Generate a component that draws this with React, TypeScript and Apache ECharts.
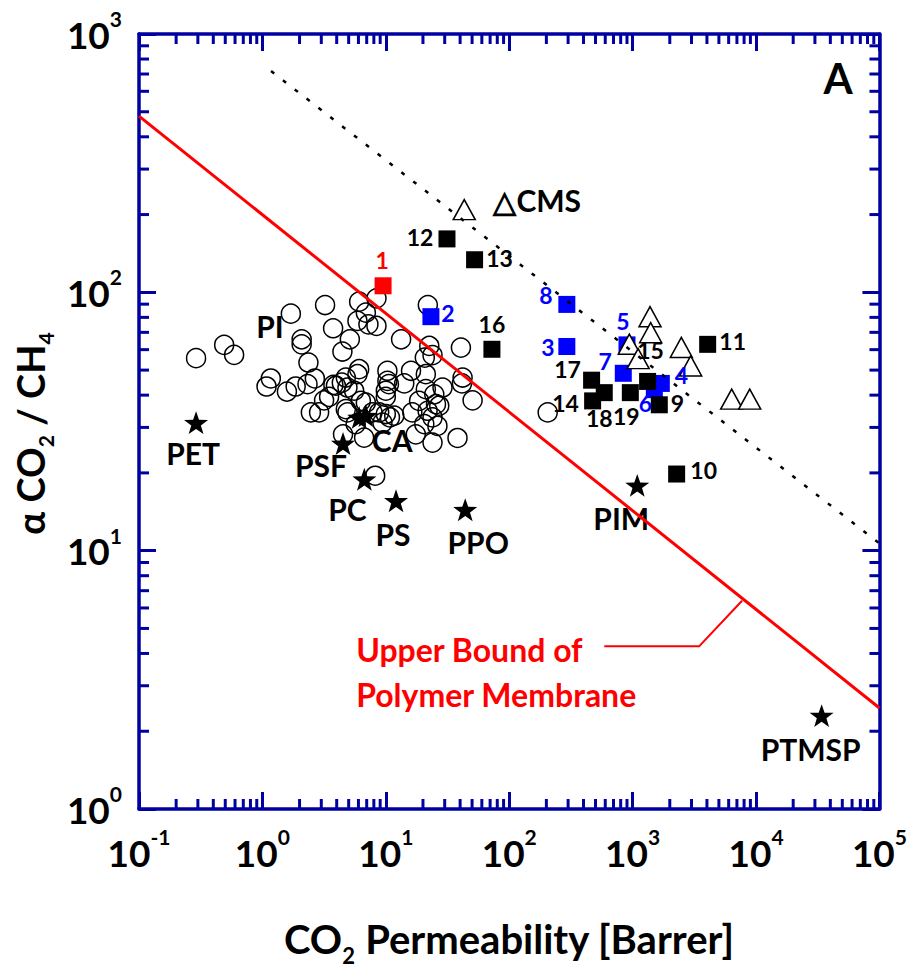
import React, { useEffect, useRef } from 'react';
import * as echarts from 'echarts';

const AXIS_COLOR = '#0000a0';
const FONT = 'Lato';

// ---- data ----
// open circles: polymer membranes [CO2 permeability, CO2/CH4 selectivity]
const circlePoints: [number, number][] = [
  [0.29, 55.6], [0.49, 62.6], [0.59, 57.3], [1.70, 82.7], [2.08, 65.8], [2.08, 62.9],
  [2.36, 53.5], [2.66, 46.4], [1.17, 46.4], [1.08, 43.2], [1.58, 41.3], [1.86, 43.2],
  [3.22, 89.3], [3.74, 72.6], [4.45, 59.0], [5.11, 65.8], [6.08, 92.0], [5.89, 77.5],
  [6.89, 83.4], [7.23, 75.2], [8.40, 94.8], [8.40, 74.1], [13.3, 65.8], [21.9, 89.3],
  [22.5, 62.0], [20.7, 55.9], [23.9, 57.1], [40.6, 61.1], [6.08, 50.4], [5.89, 48.2],
  [10.3, 49.7], [10.3, 45.4], [16.0, 49.7], [21.1, 48.2], [14.1, 44.4], [3.76, 43.8],
  [4.40, 44.7], [4.74, 46.8], [5.54, 41.6], [10.0, 39.4], [21.1, 42.2], [24.7, 40.3],
  [28.8, 42.8], [41.9, 46.8], [41.4, 44.4], [50.5, 38.2], [3.16, 38.2], [3.47, 39.4],
  [2.47, 34.3], [2.88, 34.3], [4.89, 34.3], [6.89, 37.4], [7.80, 34.3], [8.83, 34.3],
  [10.0, 33.8], [11.7, 33.3], [16.4, 34.3], [18.6, 38.0], [21.8, 34.8], [23.9, 32.8],
  [27.1, 36.4], [26.2, 30.4], [17.5, 28.2], [23.9, 26.2], [38.1, 27.3], [6.67, 27.4],
  [4.5, 28.2], [5.7, 30.9], [9.39, 31.3], [10.8, 32.8], [8.2, 19.5], [2.32, 44.1],
  [3.94, 43.5], [4.89, 42.8], [4.74, 35.3], [6.28, 38.0], [10.0, 41.6], [25.5, 36.9],
  [20.5, 30.9], [10.6, 44.1], [205, 34.3],
];

// stars: commercial polymers
const starLabels = ['PET', 'PSF', 'PC', 'PS', 'PPO', 'CA', '', 'PIM', 'PTMSP'];
const starX = [0.29, 4.5, 6.7, 12.1, 44, 6.08, 6.89, 1090, 34000];
const starY = [31.3, 26.0, 18.9, 15.6, 14.4, 32.8, 33.3, 17.9, 2.3];

// open triangles: carbon molecular sieves
const triangleLabels = ['△CMS', '', '', '', '', '', '', '', ''];
const triangleX = [43.2, 1383, 1400, 940, 1108, 2481, 2953, 6348, 8886];
const triangleY = [209, 80.5, 69.8, 63.0, 55.4, 61.2, 51.9, 38.6, 38.6];

// filled squares
const blueSquareNames = ['6', '2', '3', '4', '5', '7', '8'];
const blueSquareX = [1499, 23.2, 293, 1708, 900, 840, 293];
const blueSquareY = [42.0, 80.5, 61.7, 44.4, 62.6, 48.6, 89.8];

const blackSquareNames = ['9', '10', '11', '12', '13', '14', '15', '16', '17', '18', '19'];
const blackSquareX = [1645, 2273, 4055, 31.3, 52.4, 474, 1322, 72.4, 465, 589, 958];
const blackSquareY = [36.7, 19.8, 62.9, 161, 133.7, 38.0, 45.2, 60.2, 45.7, 40.9, 40.9];

const redSquareNames = ['1'];
const redSquareX = [9.5];
const redSquareY = [106];

// lines
const upperBoundX = [0.1, 1e5];
const upperBoundY = [481, 2.46];
const dottedX = [1.175, 1e5];
const dottedY = [719, 10.67];
const leaderX = [589, 3472, 7700];
const leaderY = [4.27, 4.27, 6.4];

// text anchors
const noteTexts = ['PI', 'Upper Bound of', 'Polymer Membrane'];
const noteX = [1.15, 5.75, 5.75];
const noteY = [74.1, 4.16, 2.78];

// axis structure
const xMin = 0.1, xMax = 1e5, yMin = 1, yMax = 1000;
const minorMultipliers = [2, 3, 4, 5, 6, 7, 8, 9];
const xDecades = [0.1, 1, 10, 100, 1000, 10000];
const yDecades = [1, 10, 100];

// ---- layout (label offsets relative to marker centre, px) ----
const squareLabelOffsets: Record<string, [number, number]> = {
  '1': [-1, -26], '12': [-27, -2], '13': [25, -2], '2': [17, -4], '16': [0, -25],
  '8': [-21, -9], '3': [-19, 0], '5': [-4, -24], '7': [-18, -12], '17': [-24, -11],
  '14': [-27, 2], '18': [-5, 25], '19': [-4, 23], '15': [3, -31], '4': [20, -8],
  '6': [-9, 13], '9': [18, -2], '11': [25, -3], '10': [27, -4],
};
const starLabelOffsets: [number, number][] = [
  [-3, 30], [-22, 22], [-17, 30], [-3, 33], [13, 32], [33, 23], [0, 0], [-16, 33], [-11, 33],
];
const triangleLabelOffsets: [number, number][] = [[73, -10]];
const noteAlign = ['center', 'left', 'left'];

const STAR = 'path://M0,-10 L2.35,-3.24 L9.51,-3.09 L3.8,1.24 L5.88,8.09 L0,4 L-5.88,8.09 L-3.8,1.24 L-9.51,-3.09 L-2.35,-3.24 Z';

const tickRich = {
  b: { fontFamily: FONT, fontWeight: 'bold', fontSize: 37, color: '#000', lineHeight: 52 },
  s: { fontFamily: FONT, fontWeight: 'bold', fontSize: 21, color: '#000', lineHeight: 14, verticalAlign: 'top' },
};
const xTitleRich = {
  b: { fontFamily: FONT, fontWeight: 'bold', fontSize: 40, color: '#000', lineHeight: 54 },
  sub: { fontFamily: FONT, fontWeight: 'bold', fontSize: 22, color: '#000', lineHeight: 14, verticalAlign: 'bottom' },
};
const yTitleRich = {
  b: { fontFamily: FONT, fontWeight: 'bold', fontSize: 38, color: '#000', lineHeight: 52 },
  sub: { fontFamily: FONT, fontWeight: 'bold', fontSize: 21, color: '#000', lineHeight: 14, verticalAlign: 'bottom' },
  gap: { fontFamily: FONT, fontSize: 20, width: 24, lineHeight: 14 },
};
const powLabel = (v: number) => `{b|10}{s|${Math.round(Math.log10(v))}}`;

const labelBase = {
  show: true,
  position: 'inside',
  fontFamily: FONT,
  fontWeight: 'bold',
  textBorderWidth: 0,
  opacity: 1,
};

function squareSeries(names: string[], xs: number[], ys: number[], color: string) {
  return {
    type: 'scatter',
    symbol: 'rect',
    symbolSize: 17,
    itemStyle: { color, opacity: 1 },
    silent: true,
    data: names.map((n, i) => ({
      name: n,
      value: [xs[i], ys[i]],
      label: { ...labelBase, formatter: n, color, fontSize: 23, offset: squareLabelOffsets[n] },
    })),
  };
}

export default function App() {
  const ref = useRef<HTMLDivElement>(null);

  useEffect(() => {
    if (!ref.current) return;
    const chart = echarts.init(ref.current, undefined, { renderer: 'svg' });

    const xMinor = xDecades.flatMap((d) => minorMultipliers.map((m) => [m * d, yMin]));
    const yMinor = yDecades.flatMap((d) => minorMultipliers.map((m) => [xMin, m * d]));

    const axisLine = { show: true, onZero: false, lineStyle: { color: AXIS_COLOR, width: 3.5 } };
    const axisTick = { show: true, inside: true, length: 17, lineStyle: { color: AXIS_COLOR, width: 3 } };
    const tickStyle = { stroke: AXIS_COLOR, lineWidth: 3 };

    const option: any = {
      animation: false,
      backgroundColor: '#fff',
      grid: { left: 139, right: 30, top: 34, bottom: 158 },
      xAxis: [
        {
          type: 'log', logBase: 10, min: xMin, max: xMax, position: 'bottom',
          axisLine, axisTick, splitLine: { show: false },
          axisLabel: { formatter: powLabel, rich: tickRich, margin: 17, showMinLabel: true, showMaxLabel: true },
          name: '{b|CO}{sub|2}{b| Permeability [Barrer]}',
          nameLocation: 'middle', nameGap: 103,
          nameTextStyle: { rich: xTitleRich },
        },
        {
          type: 'log', logBase: 10, min: xMin, max: xMax, position: 'top',
          axisLine, axisTick, splitLine: { show: false }, axisLabel: { show: false },
        },
      ],
      yAxis: [
        {
          type: 'log', logBase: 10, min: yMin, max: yMax, position: 'left',
          axisLine, axisTick, splitLine: { show: false },
          axisLabel: { formatter: powLabel, rich: tickRich, margin: 17, showMinLabel: true, showMaxLabel: true },
          name: '{b|α CO}{sub|2}{b| / CH}{sub|4}{gap| }',
          nameLocation: 'middle', nameRotate: 90, nameGap: 80,
          nameTextStyle: { rich: yTitleRich },
        },
        {
          type: 'log', logBase: 10, min: yMin, max: yMax, position: 'right',
          axisLine, axisTick, splitLine: { show: false }, axisLabel: { show: false },
        },
      ],
      graphic: [
        {
          type: 'text', x: 838, y: 78,
          style: {
            text: 'A', fontFamily: FONT, fontWeight: 'bold', fontSize: 42, fill: '#000',
            textAlign: 'center', textVerticalAlign: 'middle', align: 'center', verticalAlign: 'middle',
          },
        },
      ],
      series: [
        {
          type: 'scatter', name: 'polymers', symbol: 'circle', symbolSize: 19, silent: true,
          itemStyle: { color: 'rgba(0,0,0,0)', borderColor: '#000', borderWidth: 1.5, opacity: 1 },
          data: circlePoints,
        },
        {
          type: 'line', name: 'upper bound', symbol: 'none', silent: true,
          lineStyle: { color: '#ff0000', width: 3 },
          data: upperBoundX.map((x, i) => [x, upperBoundY[i]]),
        },
        {
          type: 'line', name: 'leader', symbol: 'none', silent: true,
          lineStyle: { color: '#ff0000', width: 2 },
          data: leaderX.map((x, i) => [x, leaderY[i]]),
        },
        {
          type: 'scatter', name: 'commercial', symbol: STAR, symbolSize: 24, symbolKeepAspect: true, silent: true,
          itemStyle: { color: '#000', opacity: 1 },
          data: starX.map((x, i) => ({
            name: starLabels[i],
            value: [x, starY[i]],
            label: {
              ...labelBase, show: starLabels[i] !== '', formatter: starLabels[i], color: '#000',
              fontSize: 30, offset: starLabelOffsets[i],
            },
          })),
        },
        squareSeries(blueSquareNames, blueSquareX, blueSquareY, '#0000ff'),
        squareSeries(blackSquareNames, blackSquareX, blackSquareY, '#000000'),
        squareSeries(redSquareNames, redSquareX, redSquareY, '#ff0000'),
        {
          type: 'scatter', name: 'CMS', symbol: 'triangle', symbolSize: [22, 20], silent: true,
          itemStyle: { color: '#fff', borderColor: '#000', borderWidth: 1.5, opacity: 1 },
          data: triangleX.map((x, i) => ({
            name: triangleLabels[i],
            value: [x, triangleY[i]],
            label: {
              ...labelBase, show: triangleLabels[i] !== '', formatter: triangleLabels[i], color: '#000',
              fontSize: 30, offset: triangleLabelOffsets[i] || [0, 0],
            },
          })),
        },
        {
          type: 'line', name: 'dotted', symbol: 'none', silent: true,
          lineStyle: { color: '#000', width: 2.5, type: [4, 11] },
          data: dottedX.map((x, i) => [x, dottedY[i]]),
        },
        {
          type: 'scatter', name: 'notes', symbolSize: 1, silent: true,
          itemStyle: { color: 'rgba(0,0,0,0)', opacity: 1 },
          data: noteX.map((x, i) => ({
            name: noteTexts[i],
            value: [x, noteY[i]],
            label: {
              ...labelBase, formatter: noteTexts[i], align: noteAlign[i],
              color: i === 0 ? '#000' : '#ff0000', fontSize: i === 0 ? 30 : 32,
            },
          })),
        },
        {
          type: 'custom', name: 'xMinorTicks', silent: true,
          encode: { x: 0, y: 1 },
          data: xMinor,
          renderItem: (params: any, api: any) => {
            const cs = params.coordSys;
            const x = api.coord([api.value(0), yMin])[0];
            const bottom = cs.y + cs.height;
            return {
              type: 'group',
              children: [
                { type: 'line', shape: { x1: x, y1: bottom, x2: x, y2: bottom - 10 }, style: tickStyle },
                { type: 'line', shape: { x1: x, y1: cs.y, x2: x, y2: cs.y + 10 }, style: tickStyle },
              ],
            };
          },
        },
        {
          type: 'custom', name: 'yMinorTicks', silent: true,
          encode: { x: 0, y: 1 },
          data: yMinor,
          renderItem: (params: any, api: any) => {
            const cs = params.coordSys;
            const y = api.coord([xMin, api.value(1)])[1];
            const right = cs.x + cs.width;
            return {
              type: 'group',
              children: [
                { type: 'line', shape: { x1: cs.x, y1: y, x2: cs.x + 10, y2: y }, style: tickStyle },
                { type: 'line', shape: { x1: right, y1: y, x2: right - 10, y2: y }, style: tickStyle },
              ],
            };
          },
        },
      ],
    };

    chart.setOption(option);
    return () => chart.dispose();
  }, []);

  return (
    <div
      ref={ref}
      style={{ position: 'fixed', left: 0, top: 0, width: 910, height: 971, background: '#fff' }}
    />
  );
}
